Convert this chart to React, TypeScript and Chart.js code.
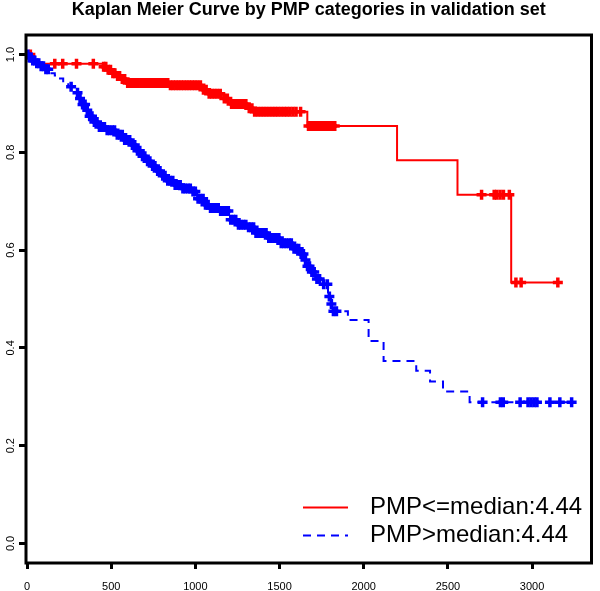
import React, { useEffect, useRef } from "react";
import { Chart, registerables } from "chart.js";

Chart.register(...registerables);

const TITLE = "Kaplan Meier Curve by PMP categories in validation set";
const xTicks = [0, 500, 1000, 1500, 2000, 2500, 3000];
const yTicks = [0, 0.2, 0.4, 0.6, 0.8, 1.0];

const lowLabel = "PMP<=median:4.44";
const highLabel = "PMP>median:4.44";

// PMP <= median (red): step times and survival after each step
const lowTimes = [0, 30, 45, 450, 475, 500, 525, 555, 590, 840, 1035, 1076, 1165, 1206, 1312, 1341, 1665, 2198, 2557, 2876];
const lowSurv = [1.0, 0.99, 0.981, 0.975, 0.969, 0.962, 0.956, 0.95, 0.942, 0.937, 0.928, 0.92, 0.91, 0.899, 0.89, 0.883, 0.854, 0.784, 0.713, 0.534];
const lowEnd = 3153;
const lowCensor = [
  20, 165, 212, 294, 394,
  455, 468, 482, 496, 510, 522, 538, 550, 566, 580, 598, 612, 628, 644, 660, 676, 692, 708, 722, 738, 754, 770,
  786, 802, 818, 836, 852, 868, 884, 900, 916, 932, 948, 964, 980, 996, 1012, 1030, 1048, 1064, 1082, 1098,
  1114, 1130, 1148, 1172, 1190, 1215, 1232, 1250, 1268, 1285, 1300, 1320, 1336, 1352, 1370, 1388, 1405, 1422,
  1440, 1458, 1475, 1492, 1510, 1528, 1545, 1562, 1580, 1598, 1625,
  1672, 1688, 1702, 1716, 1732, 1748, 1764, 1780, 1796, 1812, 1828,
  2700, 2775, 2790, 2810, 2830, 2865, 2904, 2935, 3153,
];

// PMP > median (blue)
const highTimes = [
  0, 10, 30, 50, 75, 100, 135, 165, 190, 215, 245, 280, 305, 330, 350, 370, 395, 430, 476, 529, 576, 612, 647,
  676, 706, 735, 765, 800, 829, 871, 918, 971, 1012, 1047, 1088, 1147, 1206, 1253, 1312, 1359, 1429, 1506, 1576,
  1624, 1647, 1659, 1682, 1712, 1759, 1788, 1806, 1818, 1906, 2029, 2118, 2312, 2394, 2471, 2629,
];
const highSurv = [
  1.0, 0.994, 0.988, 0.982, 0.976, 0.97, 0.962, 0.957, 0.951, 0.943, 0.934, 0.922, 0.91, 0.898, 0.886, 0.874,
  0.862, 0.852, 0.845, 0.836, 0.825, 0.815, 0.803, 0.792, 0.782, 0.772, 0.762, 0.752, 0.742, 0.733, 0.726, 0.72,
  0.705, 0.693, 0.686, 0.68, 0.662, 0.652, 0.647, 0.635, 0.625, 0.614, 0.603, 0.592, 0.58, 0.567, 0.555, 0.541,
  0.53, 0.505, 0.49, 0.475, 0.457, 0.414, 0.373, 0.353, 0.331, 0.311, 0.289,
];
const highEnd = 3235;
const highCensor = [
  5, 14, 24, 34, 46, 58, 70, 84, 98, 112, 126,
  262,
  300, 315, 330, 345, 358, 372, 386, 400, 416, 430, 446, 460, 476, 490, 506, 520, 536, 550, 566, 580, 596, 610,
  626, 640, 656, 670, 686, 700, 716, 730, 746, 760, 776, 790, 806, 820, 836, 850, 866, 880, 896, 910, 926, 940,
  956, 970, 986, 1000, 1016, 1030, 1046, 1060, 1076, 1090, 1106, 1120, 1136, 1150, 1166, 1180, 1196, 1210, 1226,
  1240, 1256, 1270, 1286, 1300, 1316, 1330, 1346, 1360, 1376, 1390, 1406, 1420, 1436, 1450, 1466, 1480, 1496,
  1510, 1526, 1540, 1556, 1570, 1586, 1600, 1614, 1628, 1642, 1654, 1666, 1678, 1692, 1706, 1722, 1738, 1762,
  1784, 1796, 1808, 1820, 1838,
  2706, 2812, 2829, 2929, 2976, 2994, 3012, 3029, 3106, 3165, 3235,
];

const RED = "#ff0000";
const BLUE = "#0000ff";
const FONT = "'Liberation Sans', Arial, Helvetica, sans-serif";

function survAt(times: number[], surv: number[], t: number): number {
  let s = surv[0];
  for (let i = 0; i < times.length; i++) {
    if (times[i] <= t) s = surv[i];
  }
  return s;
}

function stepData(times: number[], surv: number[], end: number) {
  const pts = times.map((t, i) => ({ x: t, y: surv[i] }));
  pts.push({ x: end, y: surv[surv.length - 1] });
  return pts;
}

function censorData(times: number[], surv: number[], cens: number[]) {
  return cens.map((t) => ({ x: t, y: survAt(times, surv, t) }));
}

const boxLegendPlugin = {
  id: "boxLegend",
  afterDraw(chart: any) {
    const { ctx, chartArea: a } = chart;
    ctx.save();
    ctx.strokeStyle = "#000";
    ctx.lineWidth = 3;
    ctx.strokeRect(a.left, a.top, a.right - a.left, a.bottom - a.top);

    const entries = chart.data.datasets
      .filter((d: any) => d.legendText)
      .sort((p: any, q: any) => p.legendRow - q.legendRow);
    const rows = [507.5, 535.5];
    entries.forEach((d: any, i: number) => {
      const y = rows[i];
      ctx.beginPath();
      ctx.strokeStyle = d.borderColor;
      ctx.lineWidth = 2;
      ctx.setLineDash(d.borderDash || []);
      ctx.moveTo(303, y);
      ctx.lineTo(348, y);
      ctx.stroke();
      ctx.setLineDash([]);
      ctx.fillStyle = "#000";
      ctx.font = `24px ${FONT}`;
      ctx.textAlign = "left";
      ctx.textBaseline = "middle";
      ctx.fillText(d.legendText, 370, y);
    });
    ctx.restore();
  },
};

export default function App() {
  const ref = useRef<HTMLCanvasElement | null>(null);

  useEffect(() => {
    if (!ref.current) return;
    const chart = new Chart(ref.current, {
      type: "line",
      data: {
        datasets: [
          {
            data: censorData(highTimes, highSurv, highCensor),
            showLine: false,
            pointStyle: "cross",
            pointRadius: 5,
            pointBorderWidth: 3.5,
            pointBorderColor: BLUE,
            pointBackgroundColor: BLUE,
            borderColor: BLUE,
          } as any,
          {
            legendText: highLabel,
            legendRow: 1,
            data: stepData(highTimes, highSurv, highEnd),
            stepped: true,
            borderColor: BLUE,
            borderWidth: 2,
            borderDash: [8, 6],
            pointRadius: 0,
            fill: false,
          } as any,
          {
            data: censorData(lowTimes, lowSurv, lowCensor),
            showLine: false,
            pointStyle: "cross",
            pointRadius: 5,
            pointBorderWidth: 3.5,
            pointBorderColor: RED,
            pointBackgroundColor: RED,
            borderColor: RED,
          } as any,
          {
            legendText: lowLabel,
            legendRow: 0,
            data: stepData(lowTimes, lowSurv, lowEnd),
            stepped: true,
            borderColor: RED,
            borderWidth: 2,
            pointRadius: 0,
            fill: false,
          } as any,
        ],
      },
      options: {
        animation: false,
        responsive: false,
        layout: { padding: { left: 0, right: 3, top: 0, bottom: 0 } },
        plugins: {
          legend: { display: false },
          tooltip: { enabled: false },
          title: {
            display: true,
            text: TITLE,
            fullSize: false,
            color: "#000",
            font: { family: FONT, size: 18, weight: "bold", lineHeight: 0.9 },
            padding: { top: 1.5, bottom: 17.3 },
          },
        },
        scales: {
          x: {
            type: "linear",
            min: -6,
            max: 3353,
            afterBuildTicks: (s: any) => {
              s.ticks = xTicks.map((v) => ({ value: v }));
            },
            afterFit: (s: any) => {
              s.height = 28;
            },
            grid: { drawOnChartArea: false, drawTicks: true, tickLength: 6, tickWidth: 3, tickColor: "#000" },
            border: { display: false },
            ticks: {
              autoSkip: false,
              maxRotation: 0,
              minRotation: 0,
              padding: 11,
              color: "#000",
              font: { family: FONT, size: 11 },
              callback: (v: any) => String(v),
            },
          },
          y: {
            type: "linear",
            min: -0.04,
            max: 1.04,
            afterBuildTicks: (s: any) => {
              s.ticks = yTicks.map((v) => ({ value: v }));
            },
            afterFit: (s: any) => {
              s.width = 26;
            },
            grid: { drawOnChartArea: false, drawTicks: true, tickLength: 7, tickWidth: 3, tickColor: "#000" },
            border: { display: false },
            ticks: {
              autoSkip: false,
              minRotation: 90,
              maxRotation: 90,
              crossAlign: "center",
              padding: 0,
              color: "#000",
              font: { family: FONT, size: 11 },
              callback: (v: any) => Number(v).toFixed(1),
            },
          },
        },
      } as any,
      plugins: [boxLegendPlugin],
    });
    return () => chart.destroy();
  }, []);

  return (
    <div style={{ position: "fixed", left: 0, top: 0, width: 600, height: 591, background: "#fff" }}>
      <canvas ref={ref} width={600} height={591} style={{ display: "block" }} />
    </div>
  );
}
